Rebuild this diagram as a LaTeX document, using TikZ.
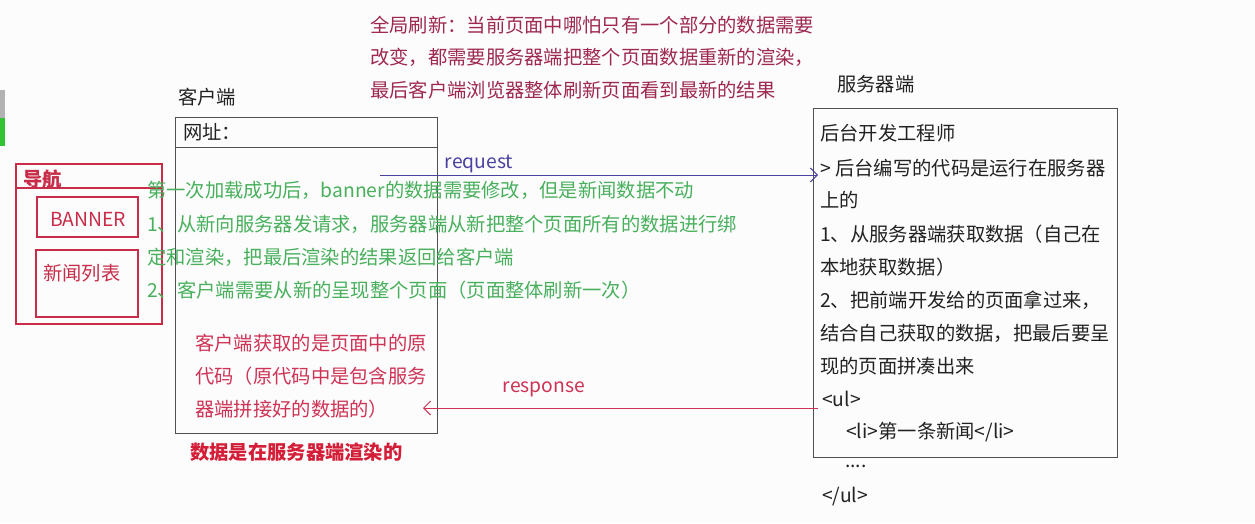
\documentclass[tikz,border=0pt]{standalone}
\usepackage{fontspec}
\setmainfont{Noto Sans CJK SC}
\usetikzlibrary{arrows.meta}
\definecolor{topred}{RGB}{158,40,80}
\definecolor{grn}{RGB}{72,176,92}
\definecolor{inred}{RGB}{206,50,84}
\definecolor{boldred}{RGB}{212,30,56}
\definecolor{navred}{RGB}{200,44,72}
\definecolor{reqblue}{RGB}{74,66,160}
\definecolor{txt}{RGB}{34,34,34}
\definecolor{boxline}{RGB}{80,80,80}
\definecolor{bg}{RGB}{252,252,252}
\tikzset{
  fnt/.style={font=\fontsize{19.3}{21}\selectfont},
  lbl/.style={anchor=west,inner sep=0pt,fnt},
  topt/.style={lbl,text=topred},
  grnt/.style={lbl,text=grn},
  redt/.style={lbl,text=inred},
  blackt/.style={lbl,text=txt},
  blackbox/.style={draw=boxline,line width=1.0pt},
  redbox/.style={draw=navred,line width=1.1pt},
  conn/.style={line width=0.9pt,-{Straight Barb[length=7pt,width=14pt]}},
}
\begin{document}
\begin{tikzpicture}[x=1pt,y=-1pt]
\fill[bg] (0,0) rectangle (1255,523);
\useasboundingbox (0,0) rectangle (1255,523);
% left UI strip
\fill[gray!60] (0,90) rectangle (5,118);
\fill[green!70!black!80] (0,118) rectangle (5,146);

% top text
\node[topt] (t1) at (370,25) {全局刷新：当前页面中哪怕只有一个部分的数据需要};
\node[topt] (t2) at (370,57) {改变，都需要服务器端把整个页面数据重新的渲染，};
\node[topt] (t3) at (370,90) {最后客户端浏览器整体刷新页面看到最新的结果};

% client
\node[blackt] (clab) at (178,97) {客户端};
\coordinate (cTL) at (175,117);
\coordinate (cBR) at (437,433);
\draw[blackbox] (cTL) rectangle (cBR);
\draw[blackbox] (175,147) -- (437,147);
\node[blackt] (url) at (183,132) {网址：};

% nav
\draw[redbox] (16,164) rectangle (162,324);
\draw[redbox] (16,188) -- (162,188);
\node[lbl,text=navred,font=\fontsize{19.3}{21}\selectfont\bfseries] (nav) at (23,179) {导航};
\draw[redbox] (37,197) rectangle (138,237);
\node[inner sep=0pt,text=navred,fnt] (banner) at (88,219) {BANNER};
\draw[redbox] (36,250) rectangle (138,317);
\node[lbl,text=navred] (news) at (43,273) {新闻列表};

% green text
\node[grnt] (g1) at (147,190) {第一次加载成功后，banner的数据需要修改，但是新闻数据不动};
\node[grnt] (g2) at (147,224) {1、从新向服务器发请求，服务器端从新把整个页面所有的数据进行绑};
\node[grnt] (g3) at (147,257) {定和渲染，把最后渲染的结果返回给客户端};
\node[grnt] (g4) at (147,290) {2、客户端需要从新的呈现整个页面（页面整体刷新一次）};

% red text in client
\node[redt] (r1) at (195,343) {客户端获取的是页面中的原};
\node[redt] (r2) at (195,376) {代码（原代码中是包含服务};
\node[redt] (r3) at (195,409) {器端拼接好的数据的）};
\node[lbl,text=boldred,font=\fontsize{19.3}{21}\selectfont\bfseries] (bold) at (190,452) {数据是在服务器端渲染的};

% server
\node[blackt] (slab) at (837,84) {服务器端};
\draw[blackbox] (813,108) rectangle (1117,457);
\node[blackt] (s1) at (820,133) {后台开发工程师};
\node[blackt] (s2) at (820,168) {> 后台编写的代码是运行在服务器};
\node[blackt] (s3) at (820,200) {上的};
\node[blackt] (s4) at (820,234) {1、从服务器端获取数据（自己在};
\node[blackt] (s5) at (820,267) {本地获取数据）};
\node[blackt] (s6) at (820,300) {2、把前端开发给的页面拿过来，};
\node[blackt] (s7) at (820,333) {结合自己获取的数据，把最后要呈};
\node[blackt] (s8) at (820,366) {现的页面拼凑出来};
\node[blackt] (s9) at (822,399) {<ul>};
\node[blackt] (s10) at (846,432) {<li>第一条新闻</li>};
\node[blackt] (s11) at (845,466) {....};
\node[blackt] (s12) at (822,497) {</ul>};

% connectors
\coordinate (reqA) at (380,175);
\coordinate (reqB) at (818,175);
\draw[conn,draw=reqblue] (reqA) -- (reqB);
\node[inner sep=0pt,text=reqblue,fnt] (reql) at (479,164) {request};
\coordinate (resA) at (818,408);
\coordinate (resB) at (423,408);
\draw[conn,draw=inred] (resA) -- (resB);
\node[inner sep=0pt,text=inred,fnt] (resl) at (544,389) {response};
\end{tikzpicture}
\end{document}
